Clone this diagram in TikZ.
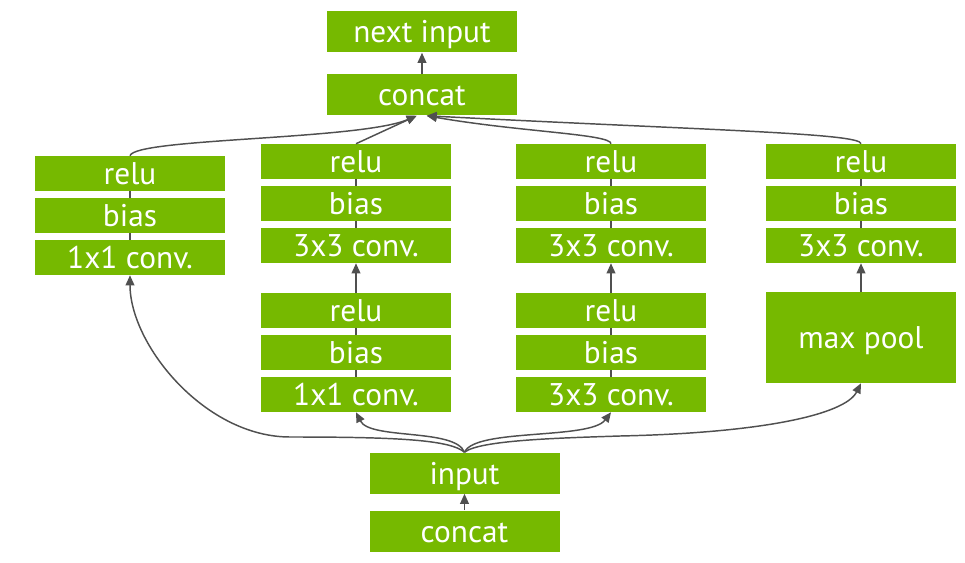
\documentclass[tikz,border=0pt]{standalone}
\usepackage{fontspec}
\setmainfont{PT Sans}
\usetikzlibrary{arrows.meta,backgrounds}
\definecolor{nvgreen}{RGB}{118,185,0}
\definecolor{linkgray}{RGB}{80,80,80}
\tikzset{
  blk/.style={fill=nvgreen, text=white, inner sep=0pt, minimum width=142.5pt, minimum height=26.25pt,
    text height=16.5pt, text depth=0pt, font=\fontsize{23.5}{25}\selectfont},
  tallblk/.style={blk, minimum height=30.75pt},
  link/.style={draw=linkgray, line width=1.1pt},
  feed/.style={link, -{Triangle[length=7.5pt,width=6.5pt]}},
}
\begin{document}
\begin{tikzpicture}[x=0.75pt,y=0.75pt,yscale=-1,xscale=1]
\useasboundingbox (0,0) rectangle (965,563);

%Top: concat and next input
\node [tallblk] (nextin) at (422,32) {next input};
\node [tallblk] (cattop) at (422,95) {concat};
%Branch 1
\node [blk] (b1relu) at (130,173.5) {relu};
\node [blk] (b1bias) at (130,215.5) {bias};
\node [blk] (b1conv) at (130,257.5) {1x1 conv.};
%Branch 2
\node [blk] (b2relu2) at (356,161.5) {relu};
\node [blk] (b2bias2) at (356,203.5) {bias};
\node [blk] (b2conv2) at (356,245.5) {3x3 conv.};
\node [blk] (b2relu1) at (356,310.5) {relu};
\node [blk] (b2bias1) at (356,352.5) {bias};
\node [blk] (b2conv1) at (356,394.5) {1x1 conv.};
%Branch 3
\node [blk] (b3relu2) at (611,161.5) {relu};
\node [blk] (b3bias2) at (611,203.5) {bias};
\node [blk] (b3conv2) at (611,245.5) {3x3 conv.};
\node [blk] (b3relu1) at (611,310.5) {relu};
\node [blk] (b3bias1) at (611,352.5) {bias};
\node [blk] (b3conv1) at (611,394.5) {3x3 conv.};
%Branch 4
\node [blk] (b4relu) at (861,161.5) {relu};
\node [blk] (b4bias) at (861,203.5) {bias};
\node [blk] (b4conv) at (861,245.5) {3x3 conv.};
\node [blk, minimum height=68.25pt] (maxpool) at (861,337.5) {max pool};
%Bottom: input and concat
\node [tallblk] (input) at (464.5,473) {input};
\node [tallblk] (catin) at (464.5,531) {concat};

%Lines behind the stacks
\begin{scope}[on background layer]
\draw [link] (b1conv.center) -- (b1relu.center);
\draw [link] (b2conv2.center) -- (b2relu2.center);
\draw [link] (b2conv1.center) -- (b2relu1.center);
\draw [link] (b3conv2.center) -- (b3relu2.center);
\draw [link] (b3conv1.center) -- (b3relu1.center);
\draw [link] (b4conv.center) -- (b4relu.center);
\end{scope}

%Straight arrows
\draw [feed] (catin.north) -- (input.south);
\draw [feed] (cattop.north) -- (nextin.south);
\draw [feed] (b2relu1.north) -- (b2conv2.south);
\draw [feed] (b3relu1.north) -- (b3conv2.south);
\draw [feed] (maxpool.north) -- (b4conv.south);

%Into concat
\draw [feed] (b1relu.north) .. controls (135,138) and (360,140) .. ([xshift=-4pt]cattop.south);
\draw [feed] (b2relu2.north) -- ([xshift=-4pt]cattop.south);
\draw [feed] (b3relu2.north) .. controls (611,134) and (520,132) .. ([xshift=3.5pt]cattop.south);
\draw [feed] (b4relu.north) .. controls (861,133) and (700,130) .. ([xshift=3.5pt]cattop.south);

%Out of input
\draw [feed] (input.north) .. controls (450,440) and (400,437) .. (290,437) .. controls (205,437) and (130,345) .. (b1conv.south);
\draw [feed] (input.north) .. controls (455,428) and (370,440) .. (b2conv1.south);
\draw [feed] (input.north) .. controls (475,428) and (590,440) .. (b3conv1.south);
\draw [feed] (input.north) .. controls (480,440) and (560,438) .. (620,436) .. controls (760,433) and (845,415) .. (maxpool.south);

\end{tikzpicture}
\end{document}
